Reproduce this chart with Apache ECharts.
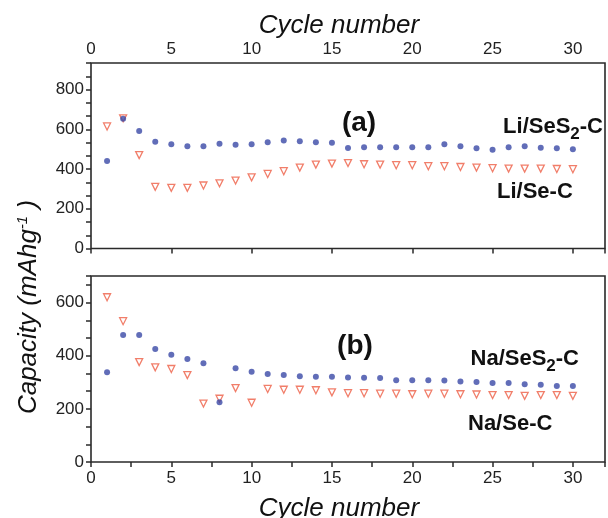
<!DOCTYPE html>
<html>
<head>
<meta charset="utf-8">
<script src="https://cdn.jsdelivr.net/npm/echarts@6/dist/echarts.min.js"></script>
<style>
  html, body { margin: 0; padding: 0; background: #fff; }
  #main { width: 608px; height: 518px; }
</style>
</head>
<body>
<div id="main"></div>
<script>
var cycles = [1, 2, 3, 4, 5, 6, 7, 8, 9, 10, 11, 12, 13, 14, 15,
  16, 17, 18, 19, 20, 21, 22, 23, 24, 25, 26, 27, 28, 29, 30];

// (a) lithium cells
var liSeS2 = [440, 653, 591, 537, 525, 515, 514, 527, 522, 524, 534, 544, 540, 535, 532,
  506, 509, 510, 510, 509, 510, 524, 514, 504, 497, 509, 514, 507, 504, 500];
var liSe = [614, 655, 470, 310, 305, 305, 317, 328, 342, 358, 375, 389, 407, 422, 427,
  430, 424, 422, 419, 419, 414, 414, 410, 407, 404, 402, 402, 402, 400, 399];

// (b) sodium cells
var naSeS2 = [338, 478, 478, 425, 404, 388, 372, 225, 353, 340, 331, 327, 323, 321, 321,
  318, 317, 316, 308, 308, 308, 307, 303, 301, 297, 297, 293, 291, 286, 286];
var naSe = [620, 530, 376, 356, 350, 327, 220, 238, 278, 223, 275, 272, 272, 270, 262,
  259, 259, 257, 257, 255, 257, 257, 255, 254, 252, 252, 249, 252, 252, 249];

var xTickLabels = [0, 5, 10, 15, 20, 25, 30];
var yTickLabelsTop = [0, 200, 400, 600, 800];
var yTickLabelsBottom = [0, 200, 400, 600];

var FONT = 'Liberation Sans';
var AXIS_COLOR = '#2a2a2a';
var BLUE = '#3a49a6';
var RED = '#ee5e45';

function pairs(ys) {
  return cycles.map(function (c, i) { return [c, ys[i]]; });
}

// only print the round tick values, the rest stay bare ticks
function pick(list) {
  return function (v) {
    var r = Math.round(v);
    return (Math.abs(v - r) < 1e-3 && list.indexOf(r) >= 0) ? String(r) : '';
  };
}

function xAxisFor(grid, pos, inside, interval) {
  return {
    type: 'value', gridIndex: grid, position: pos,
    min: 0, max: 32, interval: interval,
    axisLine: { show: false },
    axisTick: { show: true, inside: inside, length: 5, lineStyle: { color: AXIS_COLOR, width: 1.5 } },
    axisLabel: { formatter: pick(xTickLabels), fontFamily: FONT, fontSize: 17, color: '#222', margin: pos === 'top' ? 5 : 8 },
    splitLine: { show: false }
  };
}

function yAxisFor(grid, max, labels) {
  return {
    type: 'value', gridIndex: grid, min: 0, max: max, interval: 200 / 3,
    axisLine: { show: false },
    axisTick: { show: true, inside: false, length: 5, lineStyle: { color: AXIS_COLOR, width: 1.5 } },
    axisLabel: { formatter: pick(labels), fontFamily: FONT, fontSize: 17, color: '#222', margin: 7 },
    splitLine: { show: false }
  };
}

function triangles(grid, ys) {
  return {
    type: 'scatter', xAxisIndex: grid, yAxisIndex: grid, data: pairs(ys),
    symbol: 'triangle', symbolRotate: 180, symbolSize: 7,
    itemStyle: { color: '#fff', borderColor: RED, borderWidth: 1.3 },
    z: 2
  };
}

function dots(grid, ys) {
  return {
    type: 'scatter', xAxisIndex: grid, yAxisIndex: grid, data: pairs(ys),
    symbol: 'circle', symbolSize: 6,
    itemStyle: { color: BLUE },
    z: 3
  };
}

var LABEL_RICH = {
  m: { fontFamily: FONT, fontSize: 22, fontWeight: 'bold', lineHeight: 22, verticalAlign: 'top', fill: '#111' },
  s: { fontFamily: FONT, fontSize: 17, fontWeight: 'bold', lineHeight: 17, padding: [10, 0, 0, 0], verticalAlign: 'top', fill: '#111' }
};

function plainText(txt, x, y, font, align) {
  return {
    type: 'text', x: x, y: y,
    style: { text: txt, font: font, fill: '#111', align: align || 'center', verticalAlign: 'middle' }
  };
}

function richText(txt, x, y, align) {
  return {
    type: 'text', x: x, y: y,
    style: { text: txt, rich: LABEL_RICH, align: align, verticalAlign: 'top' }
  };
}

var chart = echarts.init(document.getElementById('main'), null, { renderer: 'canvas' });

var option = {
  backgroundColor: '#fff',
  animation: false,
  grid: [
    { left: 91, top: 63, width: 516, height: 185.5, show: true, borderColor: AXIS_COLOR, borderWidth: 1.6 },
    { left: 91, top: 276, width: 516, height: 186, show: true, borderColor: AXIS_COLOR, borderWidth: 1.6 }
  ],
  xAxis: [
    xAxisFor(0, 'top', true, 5),
    xAxisFor(1, 'bottom', false, 2.5)
  ],
  yAxis: [
    yAxisFor(0, 2800 / 3, yTickLabelsTop),
    yAxisFor(1, 700, yTickLabelsBottom)
  ],
  series: [
    triangles(0, liSe),
    dots(0, liSeS2),
    triangles(1, naSe),
    dots(1, naSeS2)
  ],
  graphic: [
    plainText('Cycle number', 339, 26, 'italic 26px "Liberation Sans"'),
    plainText('Cycle number', 339, 509, 'italic 26px "Liberation Sans"'),
    {
      type: 'text', x: 30, y: 307, rotation: Math.PI / 2,
      style: {
        text: '{m|Capacity (mAhg}{s|-1}{m| )}',
        align: 'center', verticalAlign: 'middle',
        rich: {
          m: { fontFamily: FONT, fontStyle: 'italic', fontSize: 26, lineHeight: 29, verticalAlign: 'top', fill: '#111' },
          s: { fontFamily: FONT, fontStyle: 'italic', fontSize: 15, lineHeight: 15, verticalAlign: 'top', fill: '#111' }
        }
      }
    },
    plainText('(a)', 359, 123, 'bold 28px "Liberation Sans"'),
    plainText('(b)', 355, 346, 'bold 28px "Liberation Sans"'),
    richText('{m|Li/SeS}{s|2}{m|-C}', 603, 116, 'right'),
    plainText('Li/Se-C', 497, 192, 'bold 22px "Liberation Sans"', 'left'),
    richText('{m|Na/SeS}{s|2}{m|-C}', 579, 348, 'right'),
    plainText('Na/Se-C', 468, 424, 'bold 22px "Liberation Sans"', 'left')
  ]
};

chart.setOption(option);
</script>
</body>
</html>
